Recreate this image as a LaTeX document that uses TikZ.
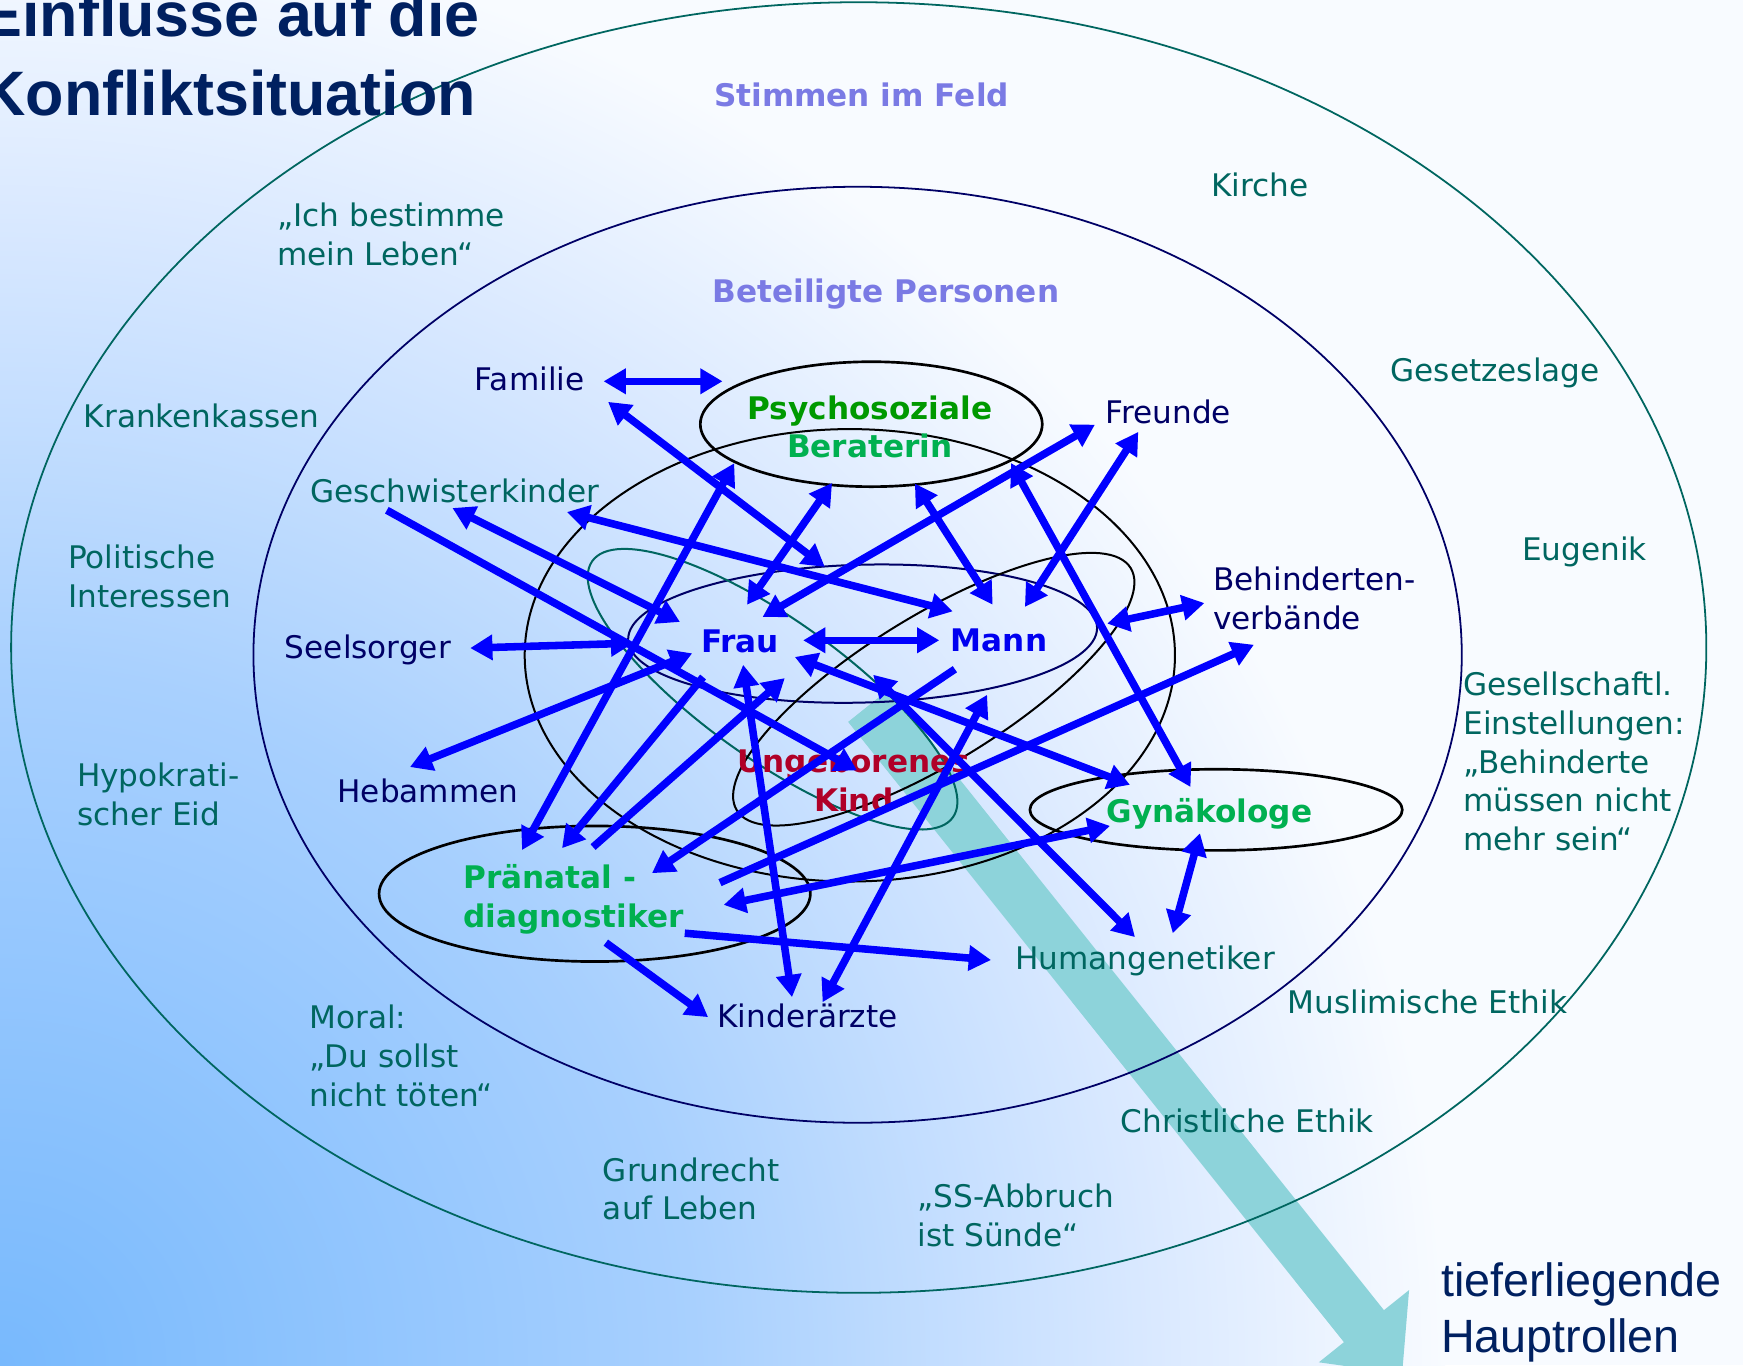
\documentclass[tikz,border=0pt]{standalone}
\usepackage{fontspec}
\setmainfont{DejaVu Sans}
\newfontfamily\headfont{Liberation Sans}
\usetikzlibrary{arrows.meta}

\definecolor{titlenavy}{RGB}{0,32,96}
\definecolor{voiceteal}{RGB}{0,102,96}
\definecolor{persnavy}{RGB}{0,0,102}
\definecolor{headlila}{RGB}{122,122,228}
\definecolor{coreblue}{RGB}{0,0,240}
\definecolor{linkblue}{RGB}{0,0,255}
\definecolor{beratgreen}{RGB}{0,153,0}
\definecolor{medgreen}{RGB}{0,176,80}
\definecolor{kindred}{RGB}{176,0,40}
\definecolor{bandteal}{RGB}{141,211,218}
\definecolor{bgA}{RGB}{120,185,253}
\definecolor{bgB}{RGB}{168,208,254}
\definecolor{bgC}{RGB}{218,233,255}
\definecolor{bgD}{RGB}{248,251,255}
\pgfdeclareradialshading{bgglow}{\pgfpoint{0bp}{0bp}}{color(0bp)=(bgA); color(12bp)=(bgB); color(20bp)=(bgC); color(25bp)=(bgD); color(50bp)=(bgD)}
\newcommand{\lblfont}{\fontsize{14pt}{17.5pt}\selectfont}

\begin{document}
\begin{tikzpicture}[x=0.5pt, y=-0.5pt, >={Triangle[length=10pt,width=11pt]}]
  \tikzset{vo/.style={text=voiceteal, font=\lblfont, inner sep=0pt, align=left},
    pe/.style={text=persnavy, font=\lblfont, inner sep=0pt, align=left},
    ke/.style={font=\lblfont\bfseries, inner sep=0pt, align=center},
    ring/.style={line width=0.9pt}, pa/.style={draw=linkblue, line width=3.4pt}}
  \useasboundingbox (0,0) rectangle (1568,1228);
  \clip (0,0) rectangle (1568,1228);
  % background glow from the lower left corner
  \fill[bgD] (0,0) rectangle (1568,1228);
  \shade[shading=bgglow] (0,1228) circle [radius=1300];
  % broad band down to the lower right
  \fill[bandteal] (763,649.4) -- (799,620.6) -- (1245,1178.6) -- (1267.6,1160.5) -- (1261.3,1236)
    -- (1186.4,1225.5) -- (1209,1207.4) -- cycle;

  % rings: voices, persons, core
  \draw[voiceteal, line width=0.8pt] (772.5,582.5) ellipse [x radius=762.5, y radius=580.5];
  \draw[persnavy, line width=0.8pt] (771.5,589) ellipse [x radius=543.5, y radius=421];
  \draw[ring] (764.5,589.5) ellipse [x radius=292.5, y radius=203.5];
  \draw[ring, persnavy, rotate around={1.5:(776,570)}] (776,570) ellipse [x radius=211, y radius=62];
  \draw[ring, voiceteal, rotate around={-35.4:(695,620)}] (695,620) ellipse [x radius=199, y radius=63];
  \draw[ring, rotate around={31.6:(840,620)}] (840,620) ellipse [x radius=208, y radius=66];
  \draw[line width=1.2pt] (783.8,381.6) ellipse [x radius=153.8, y radius=56.2];
  \draw[line width=1.2pt] (1094,728.5) ellipse [x radius=167.5, y radius=36.5];
  \draw[line width=1.2pt] (535,804) ellipse [x radius=194, y radius=61];

  \node[anchor=base west, inner sep=0pt, text=titlenavy, font={\headfont\bfseries\fontsize{28.25pt}{34pt}\selectfont}] (title1) at (-18,33) {Einflüsse auf die};
  \node[anchor=base west, inner sep=0pt, text=titlenavy, font={\headfont\bfseries\fontsize{28.25pt}{34pt}\selectfont}] (title2) at (-18,103.5) {Konfliktsituation};
  \node[anchor=base west, inner sep=0pt, text=titlenavy, font={\headfont\fontsize{21pt}{25pt}\selectfont}] (tiefer1) at (1296,1166.5) {tieferliegende};
  \node[anchor=base west, inner sep=0pt, text=titlenavy, font={\headfont\fontsize{21pt}{25pt}\selectfont}] (tiefer2) at (1296,1217) {Hauptrollen};

  \node[ke, text=headlila, anchor=base] (stimmen) at (775,96) {Stimmen im Feld};
  \node[ke, text=headlila, anchor=base] (beteiligt) at (797,272) {Beteiligte Personen};

  % outer voices
  \node[vo, anchor=base west] (kirche) at (1089,177) {Kirche};
  \node[vo, anchor=west] (ichbest) at (249,211) {„Ich bestimme\\mein Leben“};
  \node[vo, anchor=base] (gesetz) at (1345,343) {Gesetzeslage};
  \node[vo, anchor=base west] (kranken) at (75,385) {Krankenkassen};
  \node[vo, anchor=base] (eugenik) at (1425.5,504) {Eugenik};
  \node[vo, anchor=west] (politik) at (61,518.5) {Politische\\Interessen};
  \node[vo, anchor=west] (gesell) at (1316,685) {Gesellschaftl.\\Einstellungen:\\„Behinderte\\müssen nicht\\mehr sein“};
  \node[vo, anchor=west] (hippo) at (69,715) {Hypokrati-\\scher Eid};
  \node[vo, anchor=base west] (muslim) at (1158,912) {Muslimische Ethik};
  \node[vo, anchor=west] (moral) at (278,950) {Moral:\\„Du sollst\\nicht töten“};
  \node[vo, anchor=base west] (christ) at (1008,1019) {Christliche Ethik};
  \node[vo, anchor=west] (grundr) at (542,1069.5) {Grundrecht\\auf Leben};
  \node[vo, anchor=west] (ssabbr) at (825,1093) {„SS-Abbruch\\ist Sünde“};

  % persons
  \node[pe, anchor=base] (familie) at (476.5,351) {Familie};
  \node[pe, anchor=base] (freunde) at (1051,381) {Freunde};
  \node[vo, anchor=base] (geschw) at (409,452) {Geschwisterkinder};
  \node[pe, anchor=west] (behind) at (1091,538) {Behinderten-\\verbände};
  \node[pe, anchor=base] (seelsorger) at (331,592) {Seelsorger};
  \node[pe, anchor=base] (hebammen) at (385,722) {Hebammen};
  \node[pe, anchor=base] (kinderaerzte) at (726.5,924) {Kinderärzte};
  \node[vo, anchor=base] (human) at (1030,872) {Humangenetiker};
  \node[ke] (psb) at (782.5,384) {\textcolor{beratgreen}{Psychosoziale}\\\textcolor{medgreen}{Beraterin}};
  \node[ke, text=coreblue, anchor=base] (frau) at (665.6,586.7) {Frau};
  \node[ke, text=coreblue, anchor=base] (mann) at (898.8,586.2) {Mann};
  \node[ke, text=kindred] (kind) at (768,702) {Ungeborenes\\Kind};
  \node[ke, text=medgreen, anchor=base] (gyn) at (1088,739.7) {Gynäkologe};
  \node[ke, text=medgreen, anchor=west, align=left] (praen) at (416.5,809.3) {Pränatal -\\diagnostiker};

  % arrow ends
  \coordinate (fam-psb) at (543,343); \coordinate (psb-fam) at (650,343);
  \coordinate (fam-man) at (547,361.5); \coordinate (man-fam) at (742,510);
  \coordinate (psb-fra) at (748.5,434.5); \coordinate (fra-psb) at (672,544);
  \coordinate (psb-man) at (823,435); \coordinate (man-psb) at (893,544);
  \coordinate (fre-fra) at (985,382); \coordinate (fra-fre) at (686,555);
  \coordinate (fre-man) at (1024,388.5); \coordinate (man-fre) at (922,546);
  \coordinate (psb-gyn) at (909.5,416.5); \coordinate (gyn-psb) at (1071,708);
  \coordinate (man-beh) at (996,561); \coordinate (beh-man) at (1083.5,542.5);
  \coordinate (pra-beh) at (647.7,794); \coordinate (beh-pra) at (1128,580);
  \coordinate (fra-man) at (722.5,576); \coordinate (man-fra) at (845,576);
  \coordinate (ges-fra) at (407,457); \coordinate (fra-ges) at (611.7,559.5);
  \coordinate (ges-man) at (510,460.6); \coordinate (man-ges) at (857,550);
  \coordinate (ges-kin) at (348,459); \coordinate (kin-ges) at (771,693);
  \coordinate (see-fra) at (423,583); \coordinate (fra-see) at (569.6,578.6);
  \coordinate (heb-fra) at (368.8,690); \coordinate (fra-heb) at (622.7,587.7);
  \coordinate (pra-psb) at (469.6,764.7); \coordinate (psb-pra) at (660.5,416.7);
  \coordinate (fra-pra) at (632.5,609); \coordinate (pra-fra) at (505.6,763);
  \coordinate (pra-frb) at (533.5,762); \coordinate (frb-pra) at (706,610);
  \coordinate (man-pra) at (859,602); \coordinate (pra-man) at (586.5,785.5);
  \coordinate (pra-gyn) at (651,814); \coordinate (gyn-pra) at (998.6,743);
  \coordinate (pra-hum) at (616,839.5); \coordinate (hum-pra) at (891.5,863.6);
  \coordinate (pra-kia) at (545,848); \coordinate (kia-pra) at (637,915);
  \coordinate (fra-kia) at (668.5,598); \coordinate (kia-fra) at (712.5,897);
  \coordinate (man-kia) at (888,625); \coordinate (kia-man) at (740,901.6);
  \coordinate (fra-gyn) at (715,591); \coordinate (gyn-fra) at (1016.5,706);
  \coordinate (man-hum) at (785.5,607); \coordinate (hum-man) at (1021,843);
  \coordinate (gyn-hum) at (1079.5,749.6); \coordinate (hum-gyn) at (1055,839.5);

  % who talks to whom
  \draw[pa, <->] (fam-psb) -- (psb-fam); \draw[pa, <->] (fam-man) -- (man-fam);
  \draw[pa, <->] (psb-fra) -- (fra-psb); \draw[pa, <->] (psb-man) -- (man-psb);
  \draw[pa, <->] (fre-fra) -- (fra-fre); \draw[pa, <->] (fre-man) -- (man-fre);
  \draw[pa, <->] (psb-gyn) -- (gyn-psb); \draw[pa, <->] (man-beh) -- (beh-man);
  \draw[pa, ->] (pra-beh) -- (beh-pra); \draw[pa, <->] (fra-man) -- (man-fra);
  \draw[pa, <->] (ges-fra) -- (fra-ges); \draw[pa, <->] (ges-man) -- (man-ges);
  \draw[pa, ->] (ges-kin) -- (kin-ges); \draw[pa, <->] (see-fra) -- (fra-see);
  \draw[pa, <->] (heb-fra) -- (fra-heb); \draw[pa, <->] (pra-psb) -- (psb-pra);
  \draw[pa, ->] (fra-pra) -- (pra-fra); \draw[pa, ->] (pra-frb) -- (frb-pra);
  \draw[pa, ->] (man-pra) -- (pra-man); \draw[pa, <->] (pra-gyn) -- (gyn-pra);
  \draw[pa, ->] (pra-hum) -- (hum-pra); \draw[pa, ->] (pra-kia) -- (kia-pra);
  \draw[pa, <->] (fra-kia) -- (kia-fra); \draw[pa, <->] (man-kia) -- (kia-man);
  \draw[pa, <->] (fra-gyn) -- (gyn-fra); \draw[pa, <->] (man-hum) -- (hum-man);
  \draw[pa, <->] (gyn-hum) -- (hum-gyn);
\end{tikzpicture}
\end{document}
